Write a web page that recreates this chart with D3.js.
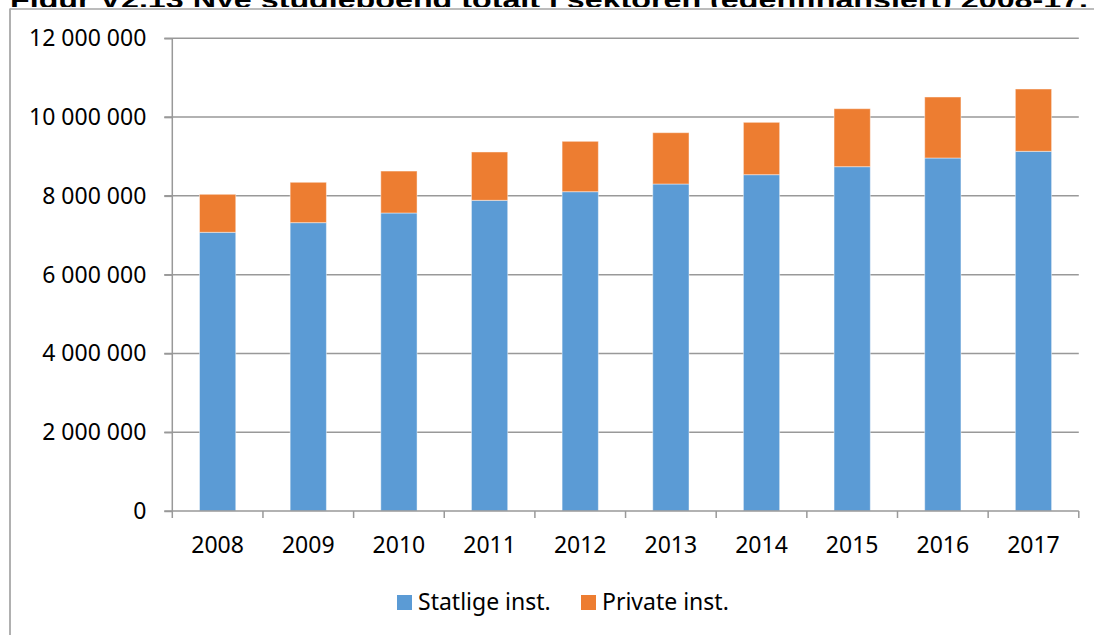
<!DOCTYPE html>
<html>
<head>
<meta charset="utf-8">
<script src="https://cdn.jsdelivr.net/npm/d3@7/dist/d3.min.js"></script>
<style>
  html, body { margin: 0; padding: 0; background: #fff; }
  svg { display: block; }
</style>
</head>
<body>
<svg id="chart" width="1094" height="635"></svg>
<script>
const titleText = "Figur V2.13 Nye studiepoeng totalt i sektoren (egenfinansiert) 2008-17.";
const years = ["2008","2009","2010","2011","2012","2013","2014","2015","2016","2017"];
const statlige = [7075000, 7320000, 7565000, 7887000, 8106000, 8301000, 8538000, 8741000, 8961000, 9131000];
const private_ = [965000, 1025000, 1065000, 1227000, 1279000, 1303000, 1329000, 1472000, 1549000, 1582000];
const seriesNames = ["Statlige inst.", "Private inst."];
const seriesColors = ["#5B9BD5", "#ED7D31"];
const yTicks = [0, 2000000, 4000000, 6000000, 8000000, 10000000, 12000000];

(function () {
const svg = d3.select("#chart");
const font = "'Noto Sans', 'Open Sans', sans-serif";
const fs = 23;

// Title (partially hidden behind the chart frame, as in the reference)
svg.append("text")
  .attr("x", 10).attr("y", 8)
  .attr("font-family", "'Liberation Sans', Arial, sans-serif")
  .attr("font-weight", "bold")
  .attr("font-size", 24)
  .attr("textLength", 1078)
  .attr("lengthAdjust", "spacingAndGlyphs")
  .attr("fill", "#000")
  .text(titleText);

// Chart background covering the lower part of the title
svg.append("rect").attr("x", 0).attr("y", 7).attr("width", 1094).attr("height", 628).attr("fill", "#fff");

// Frame
svg.append("line").attr("x1", 10).attr("x2", 1094).attr("y1", 9).attr("y2", 9)
  .attr("stroke", "#a6a6a6").attr("stroke-width", 1.5);
svg.append("line").attr("x1", 10).attr("x2", 10).attr("y1", 8.5).attr("y2", 635)
  .attr("stroke", "#b0b0b0").attr("stroke-width", 2);

const pLeft = 172.3, pRight = 1078.8, pTop = 38.3, pBottom = 511;

const x = d3.scaleBand().domain(years).range([pLeft, pRight]).paddingInner(0.6).paddingOuter(0.3);
const y = d3.scaleLinear().domain([0, 12000000]).range([pBottom, pTop]);

const gridColor = "#999999";

// Gridlines (extending left as tick marks)
svg.append("g").selectAll("line").data(yTicks.filter(d => d > 0)).join("line")
  .attr("x1", pLeft - 8).attr("x2", pRight)
  .attr("y1", d => y(d)).attr("y2", d => y(d))
  .attr("stroke", gridColor).attr("stroke-width", 1.5);

// Y axis
const yAxis = d3.axisLeft(y).tickValues(yTicks).tickSize(8).tickPadding(18)
  .tickFormat(d => d3.format(",")(d).replace(/,/g, " "));
const gy = svg.append("g").attr("transform", `translate(${pLeft},0)`).call(yAxis);
gy.select(".domain").attr("stroke", gridColor).attr("stroke-width", 1.5).attr("d", `M0,${pBottom}V${pTop}`);
gy.selectAll(".tick line").attr("stroke", gridColor).attr("stroke-width", 1.5);
gy.selectAll(".tick text").attr("font-family", font).attr("font-size", fs).attr("fill", "#000");

// Stacked bars
const data = years.map((yr, i) => ({ year: yr, s: statlige[i], p: private_[i] }));
const stack = d3.stack().keys(["s", "p"])(data);
svg.append("g").selectAll("g").data(stack).join("g")
  .attr("fill", (d, i) => seriesColors[i])
  .selectAll("rect").data(d => d).join("rect")
  .attr("x", d => x(d.data.year))
  .attr("width", x.bandwidth())
  .attr("y", d => y(d[1]))
  .attr("height", d => y(d[0]) - y(d[1]))
  .attr("stroke", "#ffffff").attr("stroke-opacity", 0.45).attr("stroke-width", 1);

// X axis with ticks at category boundaries
const gx = svg.append("g").attr("transform", `translate(0,${pBottom})`);
gx.append("line").attr("x1", pLeft - 8).attr("x2", pRight).attr("y1", 0).attr("y2", 0)
  .attr("stroke", gridColor).attr("stroke-width", 1.5);
const step = x.step();
const boundaries = d3.range(years.length + 1);
gx.selectAll("line.b").data(boundaries).join("line").attr("class", "b")
  .attr("x1", i => pLeft + i * step).attr("x2", i => pLeft + i * step)
  .attr("y1", 0).attr("y2", 7)
  .attr("stroke", gridColor).attr("stroke-width", 1.5);
gx.selectAll("text").data(years).join("text")
  .attr("x", d => x(d) + x.bandwidth() / 2)
  .attr("y", 41.5)
  .attr("text-anchor", "middle")
  .attr("font-family", font).attr("font-size", fs).attr("fill", "#000")
  .text(d => d);

// Legend
const legendItems = [{ x: 397, name: seriesNames[0], color: seriesColors[0] },
                     { x: 581, name: seriesNames[1], color: seriesColors[1] }];
const lg = svg.append("g");
lg.selectAll("rect").data(legendItems).join("rect")
  .attr("x", d => d.x).attr("y", 595).attr("width", 15).attr("height", 15)
  .attr("fill", d => d.color);
lg.selectAll("text").data(legendItems).join("text")
  .attr("x", d => d.x + 21).attr("y", 609.5)
  .attr("font-family", font).attr("font-size", fs).attr("fill", "#000")
  .text(d => d.name);
})();
</script>
</body>
</html>
